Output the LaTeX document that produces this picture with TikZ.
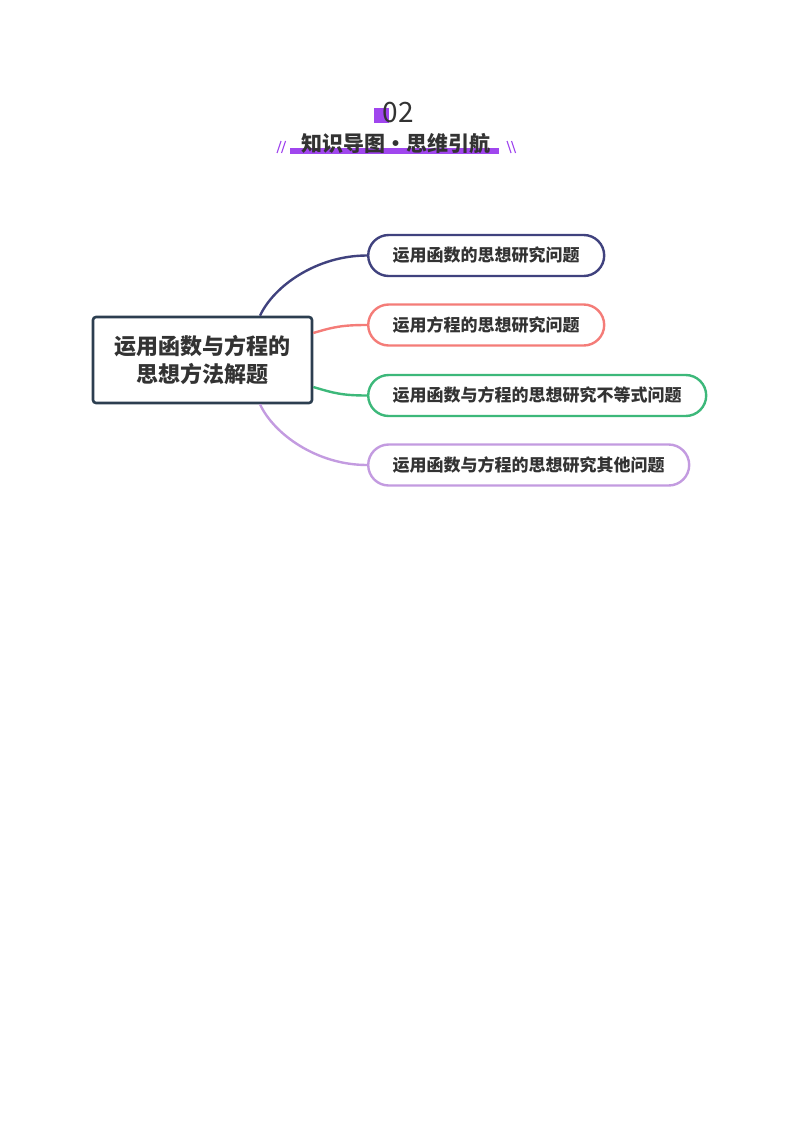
\documentclass[tikz,border=0pt]{standalone}
\usepackage{fontspec}
\setmainfont{Noto Sans CJK SC}
\usetikzlibrary{calc}
\definecolor{txt}{HTML}{333333}
\definecolor{vio}{HTML}{A046EE}
\definecolor{rootc}{HTML}{2C3E50}
\definecolor{cA}{HTML}{40427E}
\definecolor{cB}{HTML}{F47C78}
\definecolor{cC}{HTML}{3DB87A}
\definecolor{cD}{HTML}{C39BE0}
\begin{document}
\begin{tikzpicture}[x=1pt,y=-1pt,
  rootbox/.style={draw=rootc, line width=2.6pt, rounded corners=3pt, fill=white,
    minimum width=219pt, minimum height=86pt, align=center, text=txt,
    font=\fontsize{22}{28}\selectfont\bfseries, inner sep=0pt},
  pill/.style={draw=#1, line width=2.4pt, rounded corners=20.5pt, fill=white,
    minimum height=41pt, inner xsep=24.5pt, inner ysep=0pt, text=txt,
    font=\fontsize{17}{20}\selectfont\bfseries, anchor=west},
  link/.style={draw=#1, line width=2.4pt},
  slash/.style={draw=vio, line width=1.1pt}
]
\useasboundingbox (0,0) rectangle (800,1132);

% title
\fill[vio] (374,108) rectangle (389,123);
\node[anchor=base, text=txt, font=\fontsize{28}{28}\selectfont, inner sep=0pt] (num) at (398,122) {02};
\fill[vio] (290,148) rectangle (499,154);
\node[anchor=base, text=txt, font=\fontsize{21}{21}\selectfont\bfseries, inner sep=0pt] (title) at (396,151.5) {知识导图·思维引航};
\draw[slash] (277,153) -- (281,141) (281.5,153) -- (285.5,141);
\draw[slash] (507,141) -- (511,153) (511.5,141) -- (515.5,153);

% nodes
\node[rootbox] (root) at (202.5,360) {运用函数与方程的\\思想方法解题};
\node[pill=cA] (n1) at (367,255.5) {运用函数的思想研究问题};
\node[pill=cB] (n2) at (367,325) {运用方程的思想研究问题};
\node[pill=cC] (n3) at (367,395.5) {运用函数与方程的思想研究不等式问题};
\node[pill=cD] (n4) at (367,465) {运用函数与方程的思想研究其他问题};

% connectors
\draw[link=cA] ($(root.north)+(57.5,0)$) .. controls +(14,-30) and +(-50,0) .. (n1.west);
\draw[link=cB] ($(root.east)+(0,-27)$) .. controls +(20,-6) and +(-25,0) .. (n2.west);
\draw[link=cC] ($(root.east)+(0,27)$) .. controls +(20,6) and +(-25,0) .. (n3.west);
\draw[link=cD] ($(root.south)+(57.5,0)$) .. controls +(14,30) and +(-50,0) .. (n4.west);
\end{tikzpicture}
\end{document}
